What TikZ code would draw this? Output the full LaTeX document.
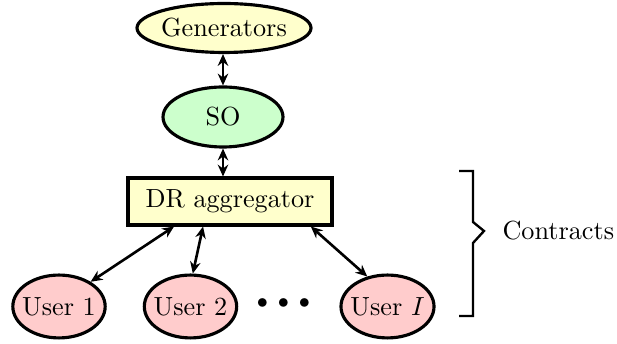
\documentclass[tikz,border=0pt]{standalone}
\usetikzlibrary{shapes.geometric,arrows.meta,calc}
\definecolor{genfill}{RGB}{255,255,204}
\definecolor{sofill}{RGB}{204,255,204}
\definecolor{userfill}{RGB}{255,204,204}
\tikzset{
  ent/.style={ellipse, draw, line width=1.2pt, inner ysep=0pt},
  genbox/.style={ent, fill=genfill, inner xsep=-0.5pt, minimum width=66.4pt, minimum height=18.7pt},
  sobox/.style={ent, fill=sofill, minimum width=45.8pt, minimum height=22.9pt},
  userbox/.style={ent, fill=userfill, inner xsep=-1.6pt, minimum width=35.1pt, minimum height=24pt},
  aggbox/.style={rectangle, draw, line width=1.2pt, fill=genfill, minimum width=77.9pt, minimum height=17.9pt},
  link/.style={<->, line width=1pt, >={Stealth[length=4.5pt,width=4pt]}},
  bracket/.style={line width=0.9pt}
}
\begin{document}
\begin{tikzpicture}[x=0.3817pt, y=-0.3817pt]
  \useasboundingbox (0,0) rectangle (617,344);

  % upper chain
  \node[genbox] (gen) at (224,28) {Generators};
  \node[sobox]  (so)  at (223,117) {SO};
  \node[aggbox] (agg) at (230,201.5) {DR aggregator};

  % users
  \node[userbox] (u1) at (59,306.5)   {User 1};
  \node[userbox] (u2) at (190.5,306.5) {User 2};
  \node[userbox] (ui) at (387.5,306.5) {User $I$};
  \node[scale=0.85] (dots) at (283.5,304) {$\bullet\mkern4mu\bullet\mkern4mu\bullet$};

  % links
  \draw[link] (so.north) -- (so.north |- gen.south);
  \draw[link] (so.south) -- (so.south |- agg.north);
  \draw[link] (u1.38)  -- ($(agg.south west)!0.23!(agg.south east)$);
  \draw[link] (u2.86)  -- ($(agg.south west)!0.37!(agg.south east)$);
  \draw[link] (ui.124) -- ($(agg.south west)!0.89!(agg.south east)$);

  % contract bracket
  \coordinate (btip) at (484,231);
  \draw[bracket] (459,171) -- (473,171) -- (473,222) -- (btip)
                 -- (473,243) -- (473,316) -- (459,316);
  \node[anchor=west, inner sep=0pt] (contracts) at (502,231) {Contracts};
\end{tikzpicture}
\end{document}
